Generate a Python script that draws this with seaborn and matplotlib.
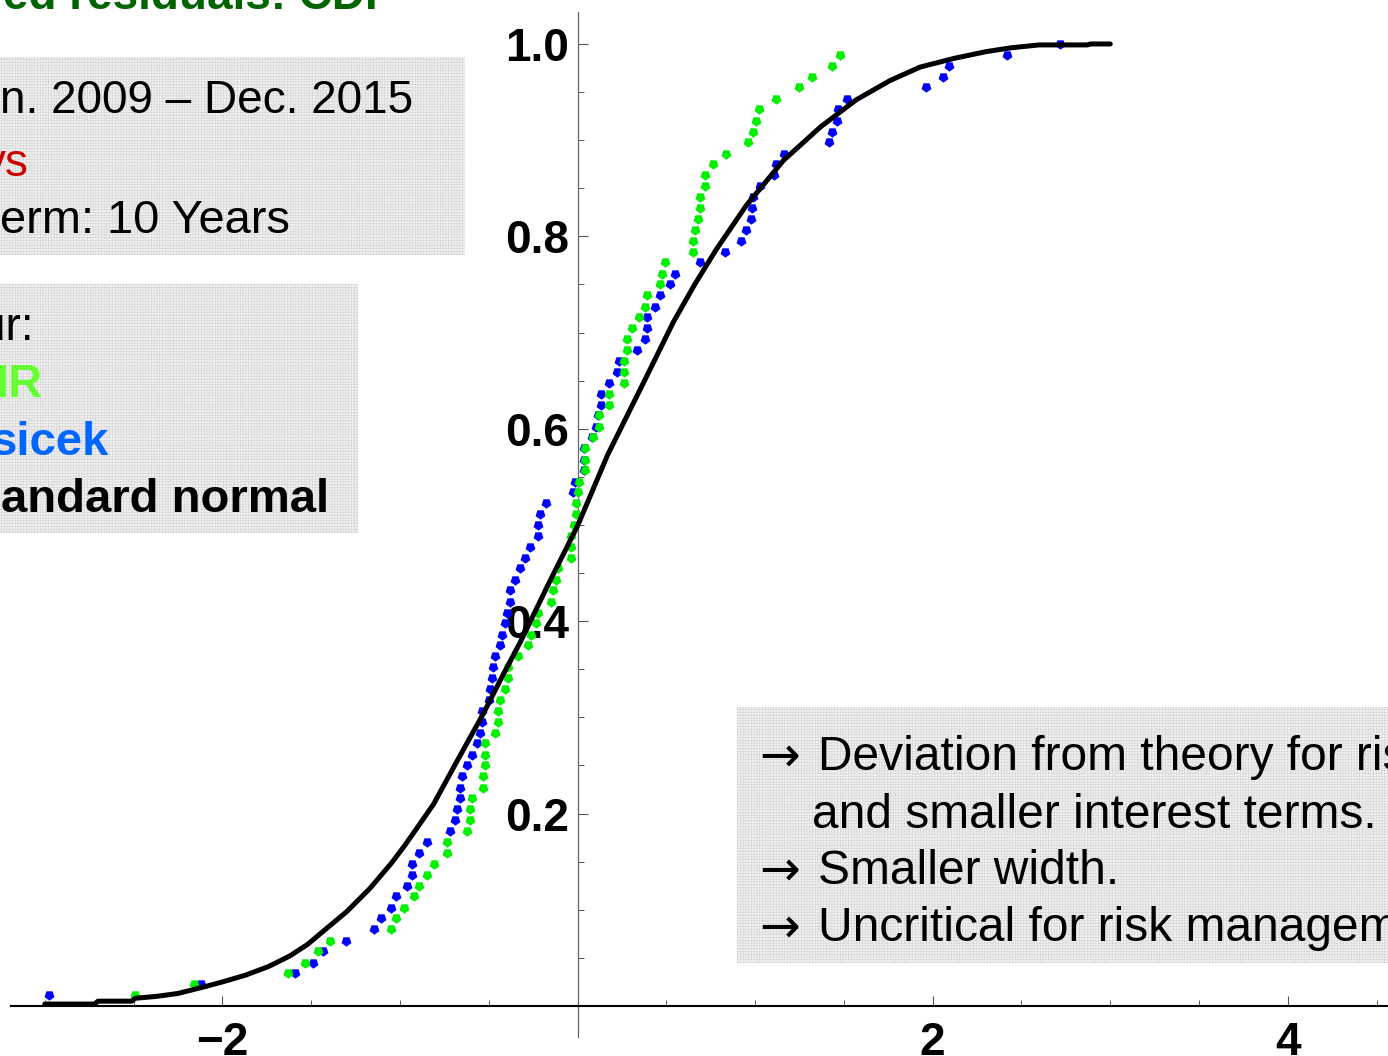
import matplotlib
matplotlib.use('Agg')
import pandas as pd
import matplotlib.pyplot as plt
import seaborn as sns
from matplotlib.patches import Rectangle
from matplotlib.ticker import FixedLocator

W, H = 1388, 1056

# empirical CDF levels shared by both model residual series
cdf_level = [0.011, 0.023, 0.034, 0.045, 0.057, 0.068, 0.080, 0.091, 0.102, 0.114,
             0.125, 0.136, 0.148, 0.159, 0.170, 0.182, 0.193, 0.205, 0.216, 0.227,
             0.239, 0.250, 0.261, 0.273, 0.284, 0.295, 0.307, 0.318, 0.330, 0.341,
             0.352, 0.364, 0.375, 0.386, 0.398, 0.409, 0.420, 0.432, 0.443, 0.455,
             0.466, 0.477, 0.489, 0.500, 0.511, 0.523, 0.534, 0.545, 0.557, 0.568,
             0.580, 0.591, 0.602, 0.614, 0.625, 0.636, 0.648, 0.659, 0.670, 0.682,
             0.693, 0.705, 0.716, 0.727, 0.739, 0.750, 0.761, 0.773, 0.784, 0.795,
             0.807, 0.818, 0.830, 0.841, 0.852, 0.864, 0.875, 0.886, 0.898, 0.909,
             0.920, 0.932, 0.943, 0.955, 0.966, 0.977, 0.989, 1.000]

cir_x = [-2.490, -2.161, -1.633, -1.532, -1.459, -1.391, -1.048, -1.020, -0.977, -0.921,
         -0.891, -0.849, -0.806, -0.735, -0.735, -0.620, -0.605, -0.605, -0.592, -0.534,
         -0.534, -0.519, -0.519, -0.519, -0.463, -0.448, -0.448, -0.436, -0.406, -0.391,
         -0.391, -0.335, -0.279, -0.264, -0.234, -0.222, -0.147, -0.136, -0.121, -0.110,
         -0.035, -0.035, -0.035, -0.021, -0.008, -0.008, 0.005, 0.010, 0.044, 0.044,
         0.044, 0.090, 0.123, 0.123, 0.179, 0.179, 0.262, 0.262, 0.262, 0.277,
         0.277, 0.305, 0.348, 0.378, 0.391, 0.463, 0.478, 0.493, 0.649, 0.649,
         0.663, 0.677, 0.692, 0.692, 0.718, 0.718, 0.763, 0.834, 0.962, 0.988,
         1.005, 1.020, 1.119, 1.247, 1.319, 1.433, 1.478]

vasicek_x = [-2.975, -2.118, -1.590, -1.492, -1.434, -1.303, -1.148, -1.105, -1.048, -1.020,
             -0.962, -0.934, -0.934, -0.891, -0.849, -0.720, -0.691, -0.677, -0.663, -0.663,
             -0.650, -0.620, -0.594, -0.566, -0.551, -0.538, -0.536, -0.498, -0.493, -0.480,
             -0.478, -0.465, -0.436, -0.423, -0.410, -0.395, -0.380, -0.380, -0.350, -0.322,
             -0.294, -0.266, -0.222, -0.222, -0.211, -0.177, -0.027, -0.012, 0.036, 0.036,
             0.036, 0.079, 0.104, 0.118, 0.135, 0.135, 0.179, 0.221, 0.234, 0.336,
             0.378, 0.391, 0.391, 0.435, 0.463, 0.521, 0.549, 0.692, 0.832, 0.919,
             0.947, 0.977, 0.985, 0.988, 1.028, 1.105, 1.118, 1.161, 1.418, 1.433,
             1.461, 1.469, 1.516, 1.962, 2.060, 2.090, 2.418, 2.715]

normal_x = [-3.00, -2.72, -2.70, -2.51, -2.49, -2.37, -2.25, -2.10, -2.00, -1.87,
            -1.74, -1.62, -1.52, -1.43, -1.30, -1.17, -1.05, -0.98, -0.90, -0.81,
            -0.68, -0.53, -0.42, -0.32, -0.16, 0.00, 0.17, 0.38, 0.54, 0.66,
            0.78, 0.95, 1.16, 1.37, 1.57, 1.76, 1.93, 2.12, 2.30, 2.44, 2.60, 2.87,
            2.89, 3.00]
normal_y = [0.002, 0.002, 0.005, 0.005, 0.008, 0.010, 0.013, 0.020, 0.025, 0.032,
            0.041, 0.052, 0.064, 0.078, 0.098, 0.122, 0.148, 0.165, 0.186, 0.210,
            0.254, 0.304, 0.344, 0.379, 0.440, 0.499, 0.573, 0.651, 0.711, 0.750,
            0.786, 0.832, 0.879, 0.914, 0.942, 0.962, 0.976, 0.985, 0.992, 0.996,
            0.999, 0.999, 1.000, 1.000]

x_major = [-2, 2, 4]
x_minor = [-3.0, -2.5, -1.5, -1.0, -0.5, 0.5, 1.0, 1.5, 2.5, 3.0, 3.5, 4.5]
y_major = [0.2, 0.4, 0.6, 0.8, 1.0]
y_minor = [0.05, 0.1, 0.15, 0.25, 0.3, 0.35, 0.45, 0.5, 0.55, 0.65, 0.7, 0.75,
           0.85, 0.9, 0.95]

sns.set_style('white')
plt.rcParams['font.family'] = ['Liberation Sans', 'DejaVu Sans']
plt.rcParams['hatch.linewidth'] = 0.4
plt.rcParams['text.color'] = 'black'
plt.rcParams['xtick.labelcolor'] = 'black'
plt.rcParams['ytick.labelcolor'] = 'black'

fig = plt.figure(figsize=(W / 100, H / 100), dpi=100)
ax = fig.add_axes([0, 0, 1, 1])

marker = (5, 0, 180)
vas = pd.DataFrame({'x': vasicek_x, 'y': cdf_level})
cir = pd.DataFrame({'x': cir_x, 'y': cdf_level[:len(cir_x)]})
sns.scatterplot(data=vas, x='x', y='y', ax=ax, color='#0000ff', marker=marker,
                s=56, linewidth=0, zorder=3)
sns.scatterplot(data=cir, x='x', y='y', ax=ax, color='#00f000', marker=marker,
                s=56, linewidth=0, zorder=3)
sns.lineplot(x=normal_x, y=normal_y, ax=ax, sort=False, estimator=None,
             color='black', lw=3.6, zorder=4)

ax.set_xlim(-3.252, 4.564)
ax.set_ylim(-0.052, 1.0457)
ax.set_xlabel('')
ax.set_ylabel('')

for side in ['top', 'right']:
    ax.spines[side].set_visible(False)
ax.spines['left'].set_position(('data', 0))
ax.spines['bottom'].set_position(('data', 0))
ax.spines['left'].set_bounds(-0.032, 1.033)
ax.spines['bottom'].set_bounds(-3.19, 4.6)
ax.spines['left'].set_color('#666666')
ax.spines['left'].set_linewidth(0.9)
ax.spines['bottom'].set_color('black')
ax.spines['bottom'].set_linewidth(1.5)

ax.xaxis.set_major_locator(FixedLocator(x_major))
ax.xaxis.set_minor_locator(FixedLocator(x_minor))
ax.yaxis.set_major_locator(FixedLocator(y_major))
ax.yaxis.set_minor_locator(FixedLocator(y_minor))
ax.tick_params(which='both', bottom=True, left=True, direction='in')
ax.tick_params(which='major', length=7, width=0.8, color='#555555', labelsize=33)
ax.tick_params(which='minor', length=4.5, width=0.7, color='#555555')
ax.tick_params(axis='x', pad=11)
ax.tick_params(axis='y', pad=6)
for lbl in ax.get_xticklabels() + ax.get_yticklabels():
    lbl.set_fontweight('bold')


def box(x0, y0, x1, y1):
    ax.add_patch(Rectangle((x0 / W, 1 - y1 / H), (x1 - x0) / W, (y1 - y0) / H,
                           transform=fig.transFigure, facecolor='#f1f1f1',
                           edgecolor='#d2d2d2', hatch='++++++', lw=0, zorder=1))


def put(x, y, s, **kw):
    kw.setdefault('fontsize', 33)
    kw.setdefault('va', 'baseline')
    kw.setdefault('color', 'black')
    ax.text(x / W, 1 - y / H, s, transform=fig.transFigure, clip_on=True, zorder=5, **kw)


box(-5, 57, 465, 255)
box(-5, 284, 358, 533)
box(737, 707, 1395, 963)

put(393, 9, 'ed residuals: CDF', ha='right', color='#006400', fontweight='bold')

put(413, 113, 'n. 2009 – Dec. 2015', ha='right')
put(29, 176, 'ys', ha='right', color='#cc0000')
put(290, 233, 'erm: 10 Years', ha='right', fontsize=33.8)

put(34, 340, 'ur:', ha='right')
put(43, 397, 'IR', ha='right', color='#66ff33', fontweight='bold', fontsize=34)
put(109, 455, 'sicek', ha='right', color='#0066ff', fontweight='bold', fontsize=34)
put(329, 512, 'andard normal', ha='right', fontweight='bold', fontsize=34)

arrow_font = ['DejaVu Sans']
put(759, 771, '→', fontsize=35, family=arrow_font)
put(818, 770, 'Deviation from theory for ris', fontsize=34.5)
put(812, 828, 'and smaller interest terms.', fontsize=34.5)
put(759, 885, '→', fontsize=35, family=arrow_font)
put(818, 884, 'Smaller width.', fontsize=34.5)
put(759, 942, '→', fontsize=35, family=arrow_font)
put(818, 941, 'Uncritical for risk managem', fontsize=34.5)

fig.savefig('out.png', dpi=100)
